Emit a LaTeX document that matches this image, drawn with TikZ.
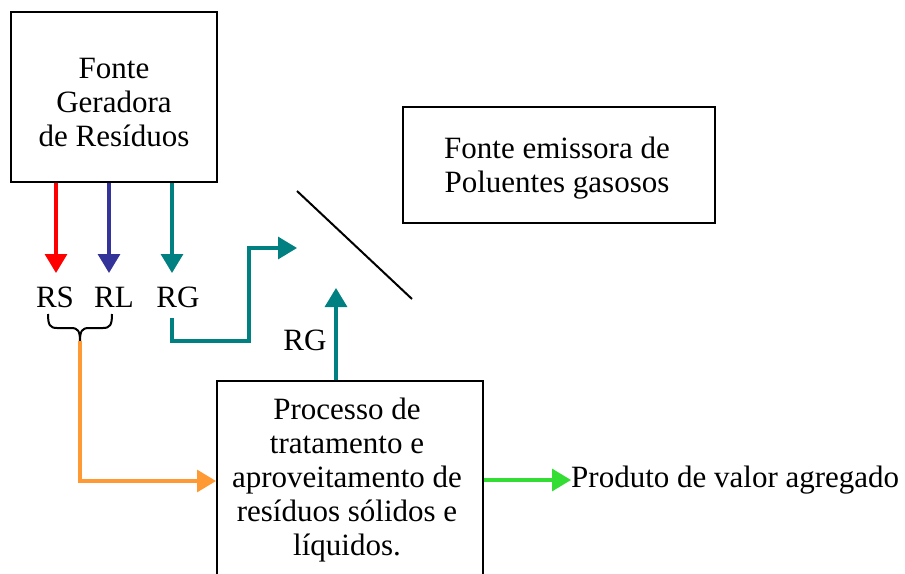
\documentclass[tikz,border=0pt]{standalone}
\usepackage{fontspec}
\setmainfont{Liberation Serif}
\usetikzlibrary{arrows.meta}
\definecolor{cred}{RGB}{255,0,0}
\definecolor{cblue}{RGB}{51,51,153}
\definecolor{cteal}{RGB}{0,128,128}
\definecolor{corange}{RGB}{255,153,51}
\definecolor{cgreen}{RGB}{51,221,51}
\tikzset{
  boxnode/.style={draw=black,line width=2pt,inner sep=0pt},
  lbl/.style={inner sep=0pt,align=center,font=\fontsize{31}{34}\selectfont},
  flow/.style={line width=3.2pt,-{Triangle[length=19pt,width=22pt]}},
}
\begin{document}
\begin{tikzpicture}[x=1pt,y=-1pt]
\useasboundingbox (0,0) rectangle (905,573);
\clip (0,0) rectangle (905,573);
\fill[white] (0,0) rectangle (905,573);
\node[boxnode,minimum width=206pt,minimum height=170pt] (b1) at (114,97) {};
\node[lbl] (b1t) at (114,102) {Fonte\\Geradora\\de Resíduos};
\node[boxnode,minimum width=312pt,minimum height=116pt] (b3) at (559,165) {};
\node[lbl] (b3t) at (557,168) {Fonte emissora de\\Poluentes gasosos};
\node[boxnode,minimum width=266pt,minimum height=196pt] (b2) at (350,479) {};
\node[lbl] (b2t) at (347,480) {Processo de\\tratamento e\\aproveitamento de\\resíduos sólidos e\\líquidos.};
\node[lbl] (rs) at (55,297) {RS};
\node[lbl] (rl) at (114,297) {RL};
\node[lbl] (rg) at (178,297) {RG};
\node[lbl] (rg2) at (305,340) {RG};
\node[lbl,anchor=west] (prod) at (571,480) {Produto de valor agregado};
\coordinate (tred) at (56,273);
\coordinate (tblue) at (109,273);
\coordinate (tteal) at (172,273);
\coordinate (gs) at (172,318);
\coordinate (gt) at (297,248);
\coordinate (vt) at (336,288);
\coordinate (bl) at (48,314);
\coordinate (br) at (112,314);
\coordinate (btip) at (80,341);
\coordinate (d1) at (297,191);
\coordinate (d2) at (412,299);
\draw[flow,cred] (b1.south -| tred) -- (tred);
\draw[flow,cblue] (b1.south -| tblue) -- (tblue);
\draw[flow,cteal] (b1.south -| tteal) -- (tteal);
\draw[flow,cteal] (gs) -- (172,341) -- (249,341) -- (249,248) -- (gt);
\draw[flow,cteal] (b2.north -| vt) -- (vt);
\draw[line width=2pt] (d1) -- (d2);
\draw[line width=2pt,line join=round] (bl) .. controls (48,325) and (50,328) .. (57,328) -- (71,328)
  .. controls (78,328) and (80,331) .. (btip)
  .. controls (80,331) and (82,328) .. (89,328) -- (103,328)
  .. controls (110,328) and (112,325) .. (br);
\draw[flow,corange] (btip) -- (80,481) -- (b2.west |- 0,481);
\draw[flow,cgreen] (b2.east |- prod) -- (prod.west);
\end{tikzpicture}
\end{document}
